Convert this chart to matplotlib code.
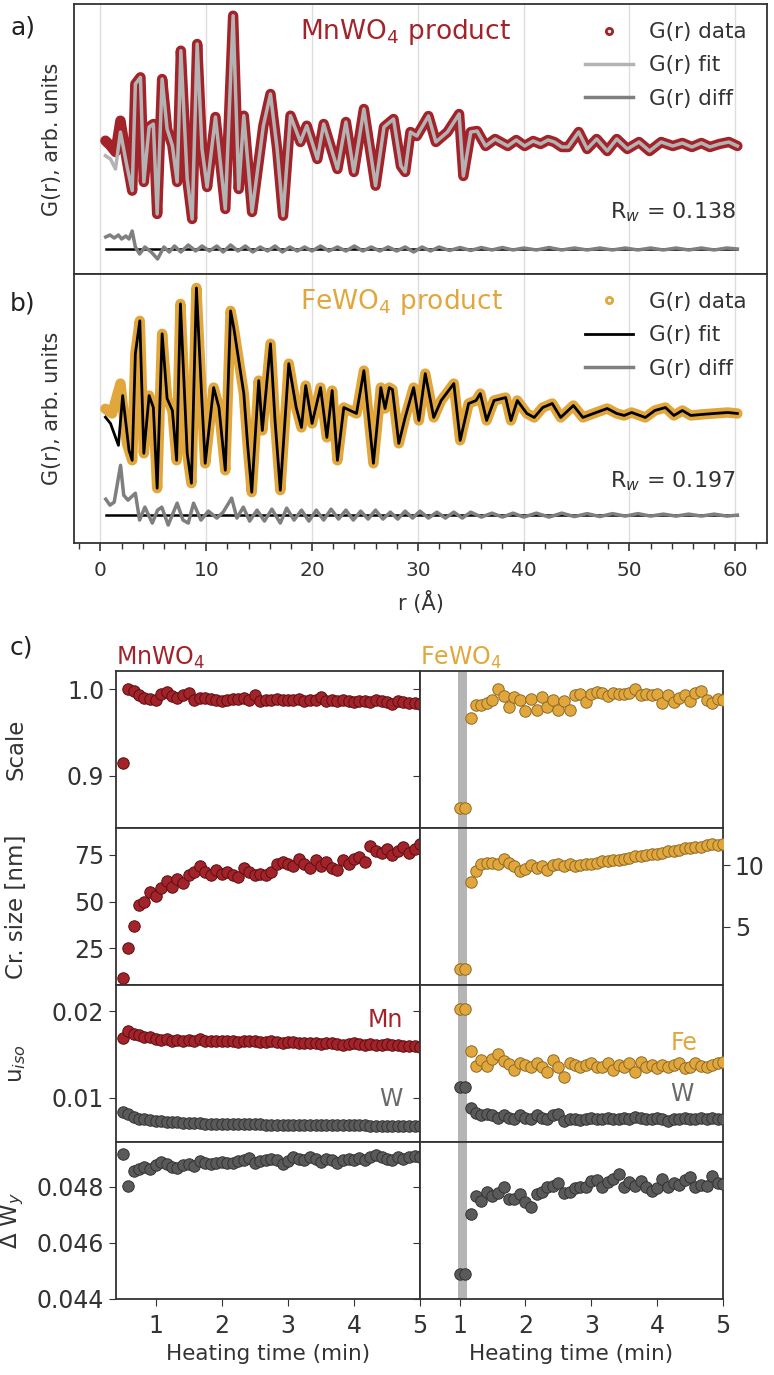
import matplotlib
matplotlib.use('Agg')
import matplotlib.pyplot as plt
from matplotlib.lines import Line2D

RED = '#a3232a'
GOLD = '#e2a73c'
GREY = '#5a5a5a'

# ---- panel a: MnWO4 PDF (G(r) in arbitrary units)
r_a = [0.47, 0.95, 1.42, 1.89, 2.5, 3.0, 3.3, 3.78, 4.1, 4.6, 5.0, 5.36, 5.83, 6.3, 6.8, 7.25, 7.6, 8.2, 8.67, 9.14,
       9.6, 10.08, 10.87, 11.8, 12.54, 13.07, 13.55, 14.33, 15.4, 16.07, 16.7, 17.26, 17.96, 18.9, 19.5, 20.5, 21.1,
       22.4, 23.2, 23.95, 24.9, 26.0, 26.8, 27.7, 28.4, 28.8, 29.3, 29.9, 31.0, 31.7, 32.8, 33.9, 34.3, 35.0, 35.6,
       36.4, 37.3, 38.5, 39.3, 40.1, 40.9, 41.6, 42.3, 42.9, 43.6, 44.2, 45.2, 46.0, 46.9, 47.9, 48.8, 49.8, 50.9,
       51.9, 53.0, 54.1, 55.0, 55.9, 56.8, 57.6, 58.5, 59.4, 60.2]
g_a = [0.33, -0.17, -0.8, 2.33, -1.67, -4.67, 6.0, 6.67, -3.8, 1.7, 2.0, -7.0, 6.5, 1.5, -0.17, -3.8, 9.33, -3.5, -7.5,
       10.0, -0.5, -4.3, 2.7, -6.5, 12.83, -4.5, 2.83, -6.8, 1.83, 5.0, -0.5, -7.17, 2.83, 0.2, 1.83, -1.5, 2.0, -2.5,
       2.2, -2.8, 3.5, -4.17, 1.7, 2.5, -2.2, -2.8, 1.2, 0.8, 2.8, 0.2, 1.2, 3.0, -3.2, 1.2, 1.3, -0.2, 0.5, -0.2, 0.4,
       -0.2, 0.3, 0.0, 0.4, 0.2, -0.3, -0.3, 1.2, -0.5, 0.5, -0.7, 0.5, -0.5, 0.2, -0.7, 0.2, -0.2, 0.1, -0.3, 0.1,
       -0.3, 0.0, 0.2, -0.2]
fit_a_r_start = [0.47, 0.95, 1.42, 1.89, 2.5]
fit_a_g_start = [-1.17, -1.5, -2.5, 1.2, -2.2]
diff_a_r = [0.5, 0.9, 1.3, 1.7, 2.0, 2.4, 2.7, 3.0, 3.3, 3.7, 4.2, 4.8, 5.4, 6.0, 6.5, 7.0, 7.6, 8.3, 9.0, 9.6, 10.3,
            11.0, 11.6, 12.3, 13.0, 13.7, 14.4, 15.1, 15.8, 16.5, 17.2, 17.9, 18.6, 19.3, 20.0, 20.8, 21.6, 22.4,
            23.2, 24.0, 24.8, 25.6, 26.4, 27.2, 28.0, 28.8, 29.6, 30.4, 31.2, 32.0, 33.0, 34.0, 35.0, 36.0, 37.0,
            38.0, 39.0, 40.0, 41.2, 42.4, 43.6, 44.8, 46.0, 47.2, 48.4, 49.6, 50.8, 52.0, 53.2, 54.4, 55.6, 56.8,
            58.0, 59.2, 60.2]
diff_a = [1.2, 1.4, 1.1, 1.4, 1.0, 1.3, 1.0, 1.8, 0.2, -0.5, 0.2, -0.3, -1.0, 0.2, -0.3, 0.3, -0.3, 0.4, -0.2, 0.3,
          -0.2, 0.3, -0.3, 0.4, -0.2, 0.3, -0.3, 0.2, -0.2, 0.3, -0.3, 0.2, -0.2, 0.2, -0.2, 0.3, -0.2, 0.2, -0.2,
          0.3, -0.2, 0.2, -0.2, 0.2, -0.2, 0.2, -0.3, 0.2, -0.2, 0.2, -0.15, 0.15, -0.15, 0.15, -0.1, 0.15, -0.1,
          0.1, -0.1, 0.15, -0.1, 0.1, -0.1, 0.1, -0.1, 0.1, -0.1, 0.1, -0.1, 0.1, -0.1, 0.1, -0.1, 0.1, 0.0]
diff_a_offset = -10.5

# ---- panel b: FeWO4 PDF
r_b = [0.47, 1.1, 1.89, 2.5, 3.0, 3.3, 3.72, 4.1, 4.6, 5.0, 5.36, 5.83, 6.3, 6.8, 7.2, 7.56, 8.2, 8.6, 9.07, 9.6, 9.9,
       10.7, 11.2, 11.8, 12.3, 12.6, 13.55, 13.9, 14.3, 14.96, 15.3, 16.07, 16.5, 17.0, 17.8, 18.5, 19.0, 19.4, 20.0,
       20.8, 21.4, 21.9, 22.4, 23.0, 23.6, 24.2, 24.9, 25.8, 26.5, 26.9, 27.3, 27.6, 28.2, 28.8, 29.6, 30.1, 30.7,
       31.5, 32.2, 33.4, 34.0, 34.8, 35.5, 35.9, 36.5, 37.2, 38.3, 38.8, 39.4, 40.3, 41.0, 41.8, 42.7, 43.5, 44.7,
       45.6, 46.6, 47.9, 48.8, 49.5, 50.2, 51.5, 52.4, 53.4, 54.2, 55.0, 55.8, 56.8, 58.0, 59.3, 60.2]
g_b = [0.47, 0.0, 3.0, -3.0, -4.7, 6.0, 9.3, -4.0, 1.8, 0.6, -7.5, 8.0, 1.5, 0.3, -4.7, 11.0, -4.0, -7.0, 12.6, 1.0,
       -5.0, 2.6, 0.6, -5.7, 10.3, 8.6, 2.0, -3.0, -7.9, 3.3, -1.7, 7.0, -0.7, -7.7, 5.0, 0.6, -1.4, 2.8, -1.0, 2.6,
       -2.4, 2.3, -4.7, 0.6, 0.3, 0.0, 4.3, -5.0, 2.6, 0.5, 2.6, 2.4, -3.0, -0.4, 2.6, -0.7, 4.0, -0.4, 1.3, 3.0,
       -2.7, 1.0, 1.3, 2.0, -0.7, 1.3, 1.6, -0.7, 1.3, 0.0, -0.4, 0.6, 1.0, -0.4, 0.8, -0.4, 0.0, 0.5, 0.0, -0.2,
       0.1, -0.4, 0.3, 0.6, -0.2, 0.3, -0.2, -0.1, 0.0, 0.1, 0.0]
fit_b_r_start = [0.47, 0.95, 1.7, 2.1, 2.7]
fit_b_g_start = [-0.37, -1.0, -3.2, 1.8, -3.7]
diff_b_r = [0.5, 0.9, 1.3, 1.9, 2.2, 2.6, 3.3, 3.7, 4.2, 4.9, 5.4, 5.8, 6.4, 7.25, 7.8, 8.3, 8.8, 9.5, 10.2, 11.0,
            11.6, 12.4, 12.9, 13.5, 14.1, 14.8, 15.5, 16.2, 17.0, 17.6, 18.3, 19.0, 19.7, 20.4, 21.1, 21.8, 22.5,
            23.2, 23.9, 24.6, 25.3, 26.0, 26.7, 27.4, 28.1, 28.8, 29.5, 30.2, 31.0, 31.8, 32.6, 33.4, 34.2, 35.0,
            36.0, 37.0, 38.0, 39.0, 40.0, 41.2, 42.4, 43.6, 44.8, 46.0, 47.2, 48.4, 49.6, 50.8, 52.0, 53.2, 54.4,
            55.6, 56.8, 58.0, 59.2, 60.2]
diff_b = [1.6, 1.0, 1.3, 5.0, 2.0, 1.5, 2.2, -0.5, 0.8, -0.8, 0.5, 0.8, -1.0, 1.2, -0.5, -0.8, 1.2, -0.5, 0.4, -0.3,
          0.3, 1.7, -0.3, 0.8, -0.6, 0.5, -0.6, 0.6, -0.8, 0.7, -0.5, 0.5, -0.6, 0.5, -0.5, 0.6, -0.4, 0.5, -0.5,
          0.4, -0.4, 0.5, -0.4, 0.3, -0.4, 0.4, -0.3, 0.4, -0.3, 0.3, -0.3, 0.3, -0.3, 0.3, -0.2, 0.2, -0.2, 0.2,
          -0.2, 0.2, -0.2, 0.2, -0.15, 0.15, -0.15, 0.15, -0.1, 0.15, -0.1, 0.1, -0.1, 0.1, -0.1, 0.1, -0.1, 0.0]
diff_b_offset = -10.2

# ---- panel c: sequential refinement results
t_mn = [0.50, 0.58, 0.67, 0.75, 0.83, 0.92, 1.00, 1.08, 1.17, 1.25, 1.33, 1.42, 1.50, 1.58, 1.67, 1.75, 1.83, 1.92,
        2.00, 2.08, 2.17, 2.25, 2.33, 2.42, 2.50, 2.58, 2.67, 2.75, 2.83, 2.92, 3.00, 3.08, 3.17, 3.25, 3.33, 3.42,
        3.50, 3.58, 3.67, 3.75, 3.83, 3.92, 4.00, 4.08, 4.17, 4.25, 4.33, 4.42, 4.50, 4.58, 4.67, 4.75, 4.83, 4.92,
        5.00]
scale_mn = [0.915, 1.0, 0.998, 0.993, 0.990, 0.989, 0.987, 0.995, 0.997, 0.992, 0.990, 0.993, 0.996, 0.988, 0.990,
            0.990, 0.989, 0.988, 0.986, 0.988, 0.989, 0.989, 0.990, 0.988, 0.993, 0.986, 0.987, 0.988, 0.989, 0.987,
            0.988, 0.987, 0.989, 0.986, 0.987, 0.988, 0.991, 0.986, 0.987, 0.986, 0.987, 0.986, 0.985, 0.986, 0.986,
            0.985, 0.987, 0.986, 0.985, 0.983, 0.986, 0.985, 0.984, 0.984, 0.983]
size_mn = [9, 25, 37, 48, 50, 55, 53, 57, 61, 58, 62, 60, 64, 66, 69, 66, 64, 67, 65, 66, 64, 63, 68, 66, 64, 65, 64,
           66, 70, 71, 70, 69, 73, 70, 68, 72, 69, 71, 68, 67, 72, 70, 73, 74, 71, 80, 77, 76, 78, 75, 77, 79, 76, 78,
           81]
uiso_mn = [0.0169, 0.0177, 0.0174, 0.0172, 0.0170, 0.0170, 0.0168, 0.0167, 0.0168, 0.0166, 0.0167, 0.0165, 0.0167,
           0.0166, 0.0168, 0.0166, 0.0165, 0.0165, 0.0166, 0.0165, 0.0165, 0.0164, 0.0165, 0.0165, 0.0166, 0.0164,
           0.0164, 0.0165, 0.0164, 0.0163, 0.0164, 0.0164, 0.0163, 0.0163, 0.0163, 0.0163, 0.0162, 0.0163, 0.0163,
           0.0162, 0.0161, 0.0162, 0.0163, 0.0162, 0.0161, 0.0162, 0.0161, 0.0161, 0.0162, 0.0161, 0.0161, 0.0160,
           0.0160, 0.0160, 0.0159]
uiso_w_mn = [0.0084, 0.0081, 0.0078, 0.0076, 0.0075, 0.0074, 0.0073, 0.0073, 0.0072, 0.0072, 0.0072, 0.0071, 0.0071,
             0.0071, 0.0071, 0.0070, 0.0070, 0.0070, 0.0070, 0.0070, 0.0070, 0.0070, 0.0070, 0.0070, 0.0070, 0.0070,
             0.0069, 0.0069, 0.0069, 0.0069, 0.0069, 0.0069, 0.0069, 0.0069, 0.0069, 0.0069, 0.0069, 0.0069, 0.0069,
             0.0069, 0.0069, 0.0069, 0.0069, 0.0069, 0.0069, 0.0068, 0.0068, 0.0068, 0.0068, 0.0068, 0.0068, 0.0068,
             0.0068, 0.0068, 0.0068]
dwy_mn = [0.04918, 0.04804, 0.04857, 0.04862, 0.04870, 0.04862, 0.04878, 0.04888, 0.04882, 0.04872, 0.04868, 0.04878,
          0.04882, 0.04876, 0.04892, 0.04886, 0.04880, 0.04886, 0.04890, 0.04886, 0.04886, 0.04892, 0.04896, 0.04902,
          0.04886, 0.04892, 0.04896, 0.04900, 0.04896, 0.04882, 0.04892, 0.04906, 0.04900, 0.04896, 0.04906, 0.04900,
          0.04890, 0.04900, 0.04896, 0.04886, 0.04896, 0.04900, 0.04896, 0.04902, 0.04896, 0.04906, 0.04912, 0.04906,
          0.04900, 0.04896, 0.04906, 0.04900, 0.04906, 0.04910, 0.04906]

t_fe = [1.00, 1.08, 1.17, 1.25, 1.33, 1.42, 1.50, 1.58, 1.67, 1.75, 1.83, 1.92, 2.00, 2.08, 2.17, 2.25, 2.33, 2.42,
        2.50, 2.58, 2.67, 2.75, 2.83, 2.92, 3.00, 3.08, 3.17, 3.25, 3.33, 3.42, 3.50, 3.58, 3.67, 3.75, 3.83, 3.92,
        4.00, 4.08, 4.17, 4.25, 4.33, 4.42, 4.50, 4.58, 4.67, 4.75, 4.83, 4.92, 5.00]
scale_fe = [0.863, 0.863, 0.967, 0.982, 0.982, 0.984, 0.988, 1.000, 0.992, 0.980, 0.991, 0.987, 0.975, 0.989, 0.976,
            0.991, 0.980, 0.987, 0.976, 0.986, 0.976, 0.993, 0.995, 0.985, 0.995, 0.997, 0.996, 0.992, 0.996, 0.994,
            0.995, 0.996, 1.000, 0.993, 0.995, 0.993, 0.994, 0.984, 0.993, 0.985, 0.990, 0.993, 0.986, 0.996, 0.998,
            0.987, 0.984, 0.989, 0.988]
size_fe = [1.6, 1.6, 8.6, 9.5, 10.1, 10.2, 10.2, 10.1, 10.5, 10.2, 9.9, 9.5, 9.7, 10.0, 9.8, 9.9, 9.6, 10.0, 10.1,
           9.9, 10.1, 9.9, 10.0, 10.1, 10.1, 10.2, 10.3, 10.3, 10.4, 10.4, 10.5, 10.6, 10.7, 10.7, 10.8, 10.9, 10.9,
           11.0, 11.1, 11.1, 11.2, 11.4, 11.4, 11.5, 11.5, 11.6, 11.7, 11.6, 11.7]
uiso_fe = [0.0202, 0.0202, 0.0154, 0.0137, 0.0144, 0.0137, 0.0145, 0.0151, 0.0142, 0.0139, 0.0132, 0.0140, 0.0138,
           0.0136, 0.0140, 0.0136, 0.0130, 0.0143, 0.0136, 0.0124, 0.0140, 0.0138, 0.0136, 0.0138, 0.0140, 0.0136,
           0.0136, 0.0140, 0.0132, 0.0138, 0.0136, 0.0140, 0.0130, 0.0141, 0.0136, 0.0138, 0.0134, 0.0138, 0.0136,
           0.0138, 0.0140, 0.0134, 0.0136, 0.0140, 0.0137, 0.0136, 0.0138, 0.0140, 0.0141]
uiso_w_fe = [0.0112, 0.0112, 0.0088, 0.0082, 0.0080, 0.0081, 0.0080, 0.0077, 0.0080, 0.0077, 0.0075, 0.0080, 0.0077,
             0.0075, 0.0080, 0.0077, 0.0075, 0.0080, 0.0081, 0.0073, 0.0075, 0.0076, 0.0074, 0.0076, 0.0077, 0.0075,
             0.0076, 0.0077, 0.0075, 0.0076, 0.0077, 0.0076, 0.0078, 0.0077, 0.0076, 0.0075, 0.0077, 0.0076, 0.0073,
             0.0075, 0.0076, 0.0077, 0.0075, 0.0076, 0.0077, 0.0076, 0.0077, 0.0076, 0.0076]
dwy_fe = [0.04489, 0.04489, 0.04702, 0.04768, 0.04748, 0.04783, 0.04768, 0.04778, 0.04798, 0.04755, 0.04755, 0.04774,
          0.04745, 0.04727, 0.04776, 0.04783, 0.04801, 0.04803, 0.04813, 0.04778, 0.04782, 0.04797, 0.04801, 0.04801,
          0.04820, 0.04825, 0.04801, 0.04818, 0.04827, 0.04845, 0.04801, 0.04818, 0.04803, 0.04820, 0.04801, 0.04786,
          0.04795, 0.04827, 0.04801, 0.04813, 0.04807, 0.04825, 0.04835, 0.04801, 0.04807, 0.04803, 0.04838, 0.04813,
          0.04810]

W, H = 774, 1375


def box(x0, y0, x1, y1):
    # pixel box -> figure fractions
    return [x0 / W, 1 - y1 / H, (x1 - x0) / W, (y1 - y0) / H]


plt.rcParams['font.family'] = 'DejaVu Sans'
plt.rcParams['axes.edgecolor'] = '#333333'
plt.rcParams['axes.linewidth'] = 1.3
plt.rcParams['text.color'] = '#222222'
plt.rcParams['xtick.color'] = '#333333'
plt.rcParams['ytick.color'] = '#333333'

fig = plt.figure(figsize=(7.74, 13.75), dpi=100)

ax_a = fig.add_axes(box(74, 4, 767, 274))
ax_b = fig.add_axes(box(74, 274, 767, 543), sharex=ax_a)


def pdf_panel(ax, r, g, fit_r, fit_g, dr, dg, off, data_col, fit_col, fit_lw, title, rw):
    for xv in [0, 10, 20, 30, 40, 50, 60]:
        ax.axvline(xv, color='#dddddd', lw=1, zorder=0)
    ax.plot(r, g, color=data_col, lw=7.5, solid_joinstyle='round', solid_capstyle='round', zorder=2)
    ax.plot(fit_r, fit_g, color=fit_col, lw=fit_lw, solid_joinstyle='round', zorder=3)
    ax.plot([dr[0], dr[-1]], [off, off], color='black', lw=1.8, zorder=2)
    ax.plot(dr, [d + off for d in dg], color='#7f7f7f', lw=2.5, zorder=3)
    ax.set_ylim(-13.0, 14.0)
    ax.set_yticks([])
    ax.set_ylabel('G(r), arb. units', fontsize=15, color='#333333')
    ax.yaxis.set_label_coords(-0.018, 0.5)
    ax.text(0.326, 0.895, title, transform=ax.transAxes, fontsize=19, color=data_col, ha='left', va='center')
    ax.text(0.955, 0.23, rw, transform=ax.transAxes, fontsize=16, ha='right', va='center', color='#333333')
    handles = [Line2D([], [], ls='none', marker='o', ms=4.5, mfc='none', mec=data_col, mew=2),
               Line2D([], [], color=fit_col, lw=fit_lw),
               Line2D([], [], color='#7f7f7f', lw=2.5)]
    ax.legend(handles, ['G(r) data', 'G(r) fit', 'G(r) diff'], loc='upper right', bbox_to_anchor=(0.983, 0.965),
              frameon=False, fontsize=15.5, handlelength=2.2, labelspacing=0.62, borderaxespad=0,
              handletextpad=0.75, labelcolor='#333333')


pdf_panel(ax_a, r_a, g_a, fit_a_r_start + r_a[5:], fit_a_g_start + g_a[5:], diff_a_r, diff_a, diff_a_offset,
          RED, '#b3b3b3', 2.5, 'MnWO$_4$ product', 'R$_w$ = 0.138')
pdf_panel(ax_b, r_b, g_b, fit_b_r_start + r_b[4:], fit_b_g_start + g_b[4:], diff_b_r, diff_b, diff_b_offset,
          GOLD, 'black', 2.0, 'FeWO$_4$ product', 'R$_w$ = 0.197')

ax_a.set_xlim(-2.5, 63)
ax_a.tick_params(axis='x', which='both', bottom=False, labelbottom=False)
ax_b.set_xticks([0, 10, 20, 30, 40, 50, 60])
ax_b.set_xticks([x * 2 for x in range(-1, 32)], minor=True)
ax_b.tick_params(axis='x', which='major', labelsize=14.5, length=6, width=1.2, pad=7)
ax_b.tick_params(axis='x', which='minor', length=4, width=1.0)
ax_b.set_xlabel('r (Å)', fontsize=15, color='#333333', labelpad=8)

fig.text(10 / W, 1 - 28 / H, 'a)', fontsize=18, va='center')
fig.text(10 / W, 1 - 303 / H, 'b)', fontsize=18, va='center')
fig.text(10 / W, 1 - 647 / H, 'c)', fontsize=18, va='center')

# ---- panel c grid
rows = [671, 828, 985, 1142, 1299]
axL = []
axR = []
for i in range(4):
    a = fig.add_axes(box(116, rows[i], 420, rows[i + 1]), sharex=axL[0] if axL else None)
    b = fig.add_axes(box(420, rows[i], 723, rows[i + 1]), sharex=axR[0] if axR else None)
    axL.append(a)
    axR.append(b)

mk = dict(s=68, linewidths=0.7, zorder=3)
for ax in axR:
    ax.axvspan(0.98, 1.12, color='#b5b5b5', zorder=1, lw=0)

axL[0].scatter(t_mn, scale_mn, c=RED, edgecolors='#5c0e12', **mk)
axR[0].scatter(t_fe, scale_fe, c=GOLD, edgecolors='#8c6a26', **mk)
axL[1].scatter(t_mn, size_mn, c=RED, edgecolors='#5c0e12', **mk)
axR[1].scatter(t_fe, size_fe, c=GOLD, edgecolors='#8c6a26', **mk)
axL[2].scatter(t_mn, uiso_w_mn, c=GREY, edgecolors='#333333', **mk)
axL[2].scatter(t_mn, uiso_mn, c=RED, edgecolors='#5c0e12', **mk)
axR[2].scatter(t_fe, uiso_w_fe, c=GREY, edgecolors='#333333', **mk)
axR[2].scatter(t_fe, uiso_fe, c=GOLD, edgecolors='#8c6a26', **mk)
axL[3].scatter(t_mn, dwy_mn, c=GREY, edgecolors='#333333', **mk)
axR[3].scatter(t_fe, dwy_fe, c=GREY, edgecolors='#333333', **mk)

limits = [(0.84, 1.021), (5.3, 89.4), (0.0049, 0.0230), (0.044, 0.0496)]
yt = [[0.9, 1.0], [25, 50, 75], [0.01, 0.02], [0.044, 0.046, 0.048]]
ytl = [['0.9', '1.0'], ['25', '50', '75'], ['0.01', '0.02'], ['0.044', '0.046', '0.048']]
ylabels = ['Scale', 'Cr. size [nm]', 'u$_{iso}$', 'Δ W$_y$']
label_x = [-0.29, -0.29, -0.29, -0.295]
for i in range(4):
    axL[i].set_ylim(*limits[i])
    axL[i].set_yticks(yt[i])
    axL[i].set_yticklabels(ytl[i])
    axL[i].tick_params(axis='y', labelsize=17, length=5)
    axL[i].set_ylabel(ylabels[i], fontsize=16.5, color='#333333')
    axL[i].yaxis.set_label_coords(label_x[i], 0.5)
    if i != 1:
        axR[i].set_ylim(*limits[i])
        axR[i].set_yticks(yt[i])
        axR[i].tick_params(axis='y', labelleft=False, length=5)
    for ax in (axL[i], axR[i]):
        ax.set_xlim(0.4, 5.0)
        if i < 3:
            ax.tick_params(axis='x', bottom=False, labelbottom=False)

axR[1].set_ylim(0.3, 13.0)
axR[1].set_yticks([5, 10])
axR[1].yaxis.tick_right()
axR[1].tick_params(axis='y', labelsize=17, length=5)

for ax in (axL[3], axR[3]):
    ax.set_xticks([1, 2, 3, 4, 5])
    ax.tick_params(axis='x', labelsize=17, length=5, pad=6)
    ax.set_xlabel('Heating time (min)', fontsize=15.5, color='#333333', labelpad=4)

axL[0].set_title('MnWO$_4$', loc='left', color=RED, fontsize=17, pad=4)
axR[0].set_title('FeWO$_4$', loc='left', color=GOLD, fontsize=17, pad=4)

axL[2].text(4.74, 0.0190, 'Mn', color=RED, fontsize=17, ha='right', va='center')
axL[2].text(4.74, 0.0098, 'W', color='#6a6a6a', fontsize=17, ha='right', va='center')
axR[2].text(4.62, 0.0163, 'Fe', color=GOLD, fontsize=17, ha='right', va='center')
axR[2].text(4.55, 0.0104, 'W', color='#6a6a6a', fontsize=17, ha='right', va='center')

fig.savefig('out.png', dpi=100)
